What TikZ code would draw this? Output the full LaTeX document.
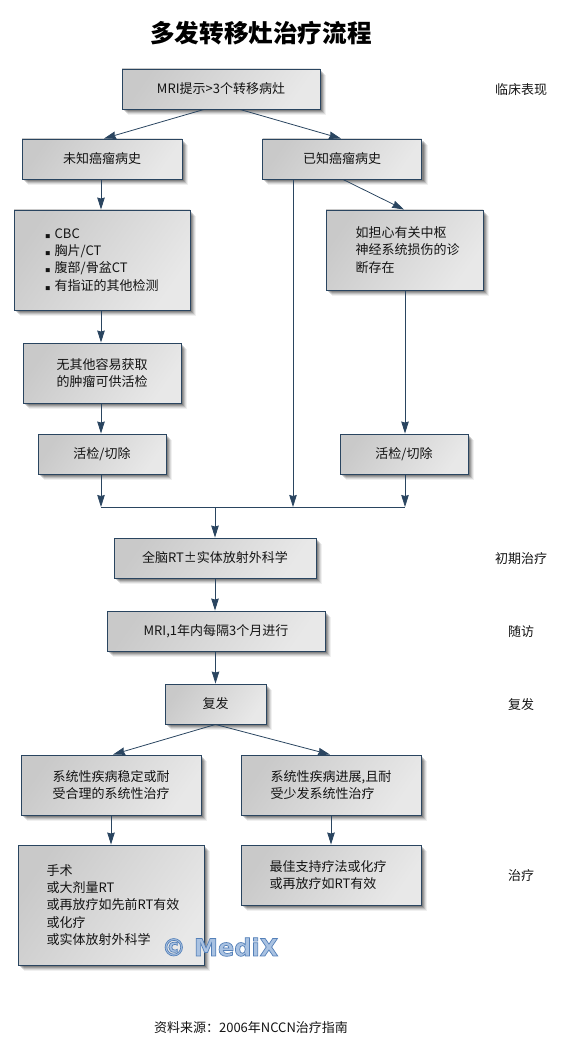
\documentclass[tikz,border=0pt]{standalone}
\usepackage{fontspec}
\setmainfont{Noto Sans CJK SC}
\newfontfamily\cjk{Noto Sans CJK SC}
\newfontfamily\wm{DejaVu Sans}
\usetikzlibrary{arrows.meta,backgrounds}
\definecolor{edgeblue}{HTML}{2A4560}
\definecolor{wmfill}{HTML}{A9C2E2}
\tikzset{
  x=1pt,y=-1pt,
  flowbox/.style={draw=edgeblue,line width=.9pt,rectangle,inner sep=0pt,
    top color=black!21,bottom color=black!9,shading angle=55,
    font=\cjk\fontsize{13}{17.3}\selectfont,text=black!92,align=center},
  softshadow/.style={fill=black,opacity=#1,draw=none},
  link/.style={draw=edgeblue,line width=.8pt},
  flow/.style={link,-{Stealth[length=12pt,width=7.5pt,inset=1pt]}},
  sidelabel/.style={font=\cjk\fontsize{13}{14}\selectfont,text=black!92},
}
\newcommand{\pad}{\hspace*{6pt}}
\newcommand{\padb}{\hspace*{4pt}}
\begin{document}
\begin{tikzpicture}
\useasboundingbox (0,0) rectangle (584,1048);
\node[font=\cjk\bfseries\fontsize{24.6}{26}\selectfont] (title) at (261,33) {多发转移灶治疗流程};

\node[flowbox,minimum width=198pt,minimum height=40pt] (mri) at (221,89) {MRI提示>3个转移病灶};
\node[flowbox,minimum width=160pt,minimum height=40pt] (unk) at (102,159) {未知癌瘤病史};
\node[flowbox,minimum width=159pt,minimum height=40pt] (kno) at (342,159) {已知癌瘤病史};
\node[flowbox,minimum width=176pt,minimum height=100pt,align=left] (cbc) at (102,260) {\textbf{\tiny ■}\,\,CBC\\\textbf{\tiny ■}\,\,胸片/CT\\\textbf{\tiny ■}\,\,腹部/骨盆CT\\\textbf{\tiny ■}\,\,有指证的其他检测};
\node[flowbox,minimum width=157pt,minimum height=80pt,align=left] (cns) at (404.5,250) {\pad 如担心有关中枢\\\pad 神经系统损伤的诊\\\pad 断存在};
\node[flowbox,minimum width=158pt,minimum height=60pt] (tum) at (102,373) {无其他容易获取\\的肿瘤可供活检};
\node[flowbox,minimum width=128pt,minimum height=40pt] (bl) at (102,454) {活检/切除};
\node[flowbox,minimum width=128pt,minimum height=40pt] (br) at (404,454) {活检/切除};
\coordinate (jl) at (101,507);
\coordinate (jm) at (293,507);
\coordinate (jr) at (405,507);
\coordinate (jc) at (215,507);
\node[flowbox,minimum width=202pt,minimum height=40pt] (rt) at (215,558) {全脑RT±实体放射外科学};
\node[flowbox,minimum width=218pt,minimum height=40pt] (fu) at (216,631) {MRI,1年内每隔3个月进行};
\node[flowbox,minimum width=101pt,minimum height=40pt] (rec) at (215.5,704) {复发};
\node[flowbox,minimum width=180pt,minimum height=60pt] (sl) at (111,785) {系统性疾病稳定或耐\\受合理的系统性治疗};
\node[flowbox,minimum width=180pt,minimum height=60pt,align=left] (sr) at (331,785) {系统性疾病进展,且耐\\受少发系统性治疗};
\node[flowbox,minimum width=186pt,minimum height=120pt,align=left] (op) at (111,905) {\padb 手术\\\padb 或大剂量RT\\\padb 或再放疗如先前RT有效\\\padb 或化疗\\\padb 或实体放射外科学};
\node[flowbox,minimum width=180pt,minimum height=60pt,align=left] (best) at (331,875) {最佳支持疗法或化疗\pad\\或再放疗如RT有效};

\begin{scope}[on background layer]
\foreach \n in {mri,unk,kno,cbc,cns,tum,bl,br,rt,fu,rec,sl,sr,op,best}{
  \foreach \k/\o in {6/.06,5/.09,4/.13,3/.16,2/.18}{
    \fill[softshadow=\o] ([shift={(\k pt,-\k pt)}]\n.north west) rectangle ([shift={(\k pt,-\k pt)}]\n.south east);
  }
}
\end{scope}

\draw[flow] ([xshift=-17pt]mri.south) -- ([xshift=2pt]unk.north);
\draw[flow] ([xshift=19pt]mri.south) -- ([xshift=-1pt]kno.north);
\draw[flow] ([xshift=-1pt]unk.south) -- ([xshift=-1pt]cbc.north);
\draw[flow] ([xshift=1pt]kno.south) -- ([xshift=-0.5pt]cns.north);
\draw[flow] ([xshift=-1pt]cbc.south) -- ([xshift=-1pt]tum.north);
\draw[flow] ([xshift=-1pt]tum.south) -- ([xshift=-1pt]bl.north);
\draw[flow] (cns.south -| jr) -- (br.north -| jr);
\draw[flow] ([xshift=-1pt]bl.south) -- (jl);
\draw[flow] (br.south -| jr) -- (jr);
\draw[flow] (kno.south -| jm) -- (jm);
\draw[link] (jl) -- (jr);
\draw[flow] (jc) -- (rt.north);
\draw[flow] (rt.south) -- (rt.south |- fu.north);
\draw[flow] (fu.south -| rec.north) -- (rec.north);
\draw[flow] (rec.south) -- ([xshift=2pt]sl.north);
\draw[flow] (rec.south) -- ([xshift=-1pt]sr.north);
\draw[flow] (sl.south) -- (op.north);
\draw[flow] (sr.south) -- (best.north);

\node[sidelabel] (l1) at (521,90) {临床表现};
\node[sidelabel] (l2) at (521,559) {初期治疗};
\node[sidelabel] (l3) at (521,632) {随访};
\node[sidelabel] (l4) at (521,705) {复发};
\node[sidelabel] (l5) at (521,876) {治疗};
\node[sidelabel] (src) at (251,1028) {资料来源：2006年NCCN治疗指南};
\node[font=\wm\bfseries\fontsize{24}{26}\selectfont,text=wmfill] (wm) at (220,947) {\special{pdf:code 2 Tr 0.7 w 0.33 0.50 0.72 RG}© MediX\special{pdf:code 0 Tr}};
\end{tikzpicture}
\end{document}
